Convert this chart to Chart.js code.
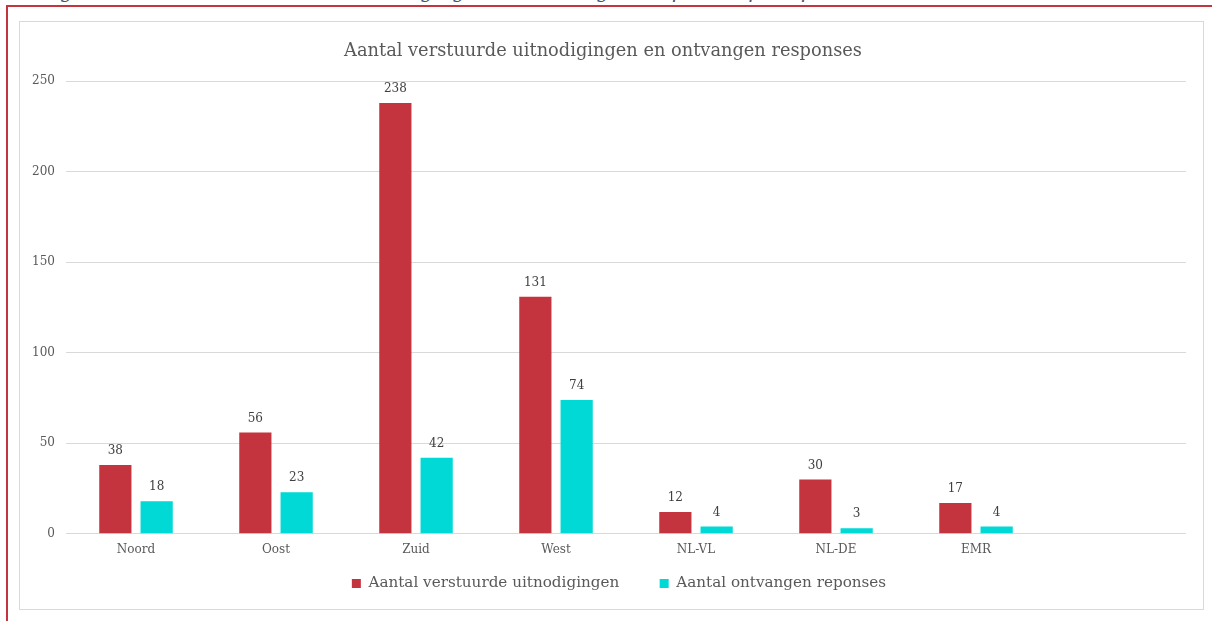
<!DOCTYPE html>
<html>
<head>
    <title>Aantal verstuurde uitnodigingen en ontvangen responses</title>
    <script src="https://cdn.jsdelivr.net/npm/chart.js"></script>
    <style>
        body {margin: 0; background: #fff; width: 1212px; height: 621px; overflow: hidden; position: relative;}
        #caption {position: absolute; left: 40px; top: -21px; font: italic 20px "DejaVu Serif", serif; color: #44546a; white-space: nowrap;}
        #frame {position: absolute; left: 6px; top: 5px; width: 1220px; height: 640px; border-left: 2px solid #c3343f; border-top: 2px solid #c3343f;}
        #chartBox {position: absolute; left: 19px; top: 21px; width: 1183px; height: 587px; border: 1px solid #d9d9d9; background: #fff;}
    </style>
</head>
<body>
    <div id="caption">Figuur 33 - Aantal verstuurde uitnodigingen en ontvangen responses per operatie</div>
    <div id="frame"></div>
    <div id="chartBox">
        <canvas id="myChart"></canvas>
    </div>
    <script>
        var regions = ['Noord', 'Oost', 'Zuid', 'West', 'NL-VL', 'NL-DE', 'EMR', ''];
        var uitnodigingen = [38, 56, 238, 131, 12, 30, 17, null];
        var responses = [18, 23, 42, 74, 4, 3, 4, null];
        var yTicks = [0, 50, 100, 150, 200, 250];

        var serif = '"DejaVu Serif", serif';

        // values above the bars
        var barLabels = {
            id: 'barLabels',
            afterDatasetsDraw: function(chart) {
                var ctx = chart.ctx;
                ctx.save();
                ctx.font = '12px ' + serif;
                ctx.fillStyle = '#404040';
                ctx.textAlign = 'center';
                ctx.textBaseline = 'bottom';
                chart.data.datasets.forEach(function(ds, i) {
                    chart.getDatasetMeta(i).data.forEach(function(bar, j) {
                        if (ds.data[j] == null) return;
                        ctx.fillText(ds.data[j], bar.x, bar.y - 8);
                    });
                });
                ctx.restore();
            }
        };

        // legend sits a bit right of the plot centre in the original
        var legendShift = {
            id: 'legendShift',
            afterLayout: function(chart) {
                chart.legend.left += 16;
                chart.legend.right += 16;
            }
        };

        var ctx = document.getElementById('myChart').getContext('2d');
        new Chart(ctx, {
            type: 'bar',
            data: {
                labels: regions,
                datasets: [
                    {label: 'Aantal verstuurde uitnodigingen', data: uitnodigingen, backgroundColor: '#c3343f'},
                    {label: 'Aantal ontvangen reponses', data: responses, backgroundColor: '#00d9d6'}
                ]
            },
            plugins: [barLabels, legendShift],
            options: {
                responsive: true,
                maintainAspectRatio: false,
                animation: false,
                categoryPercentage: 0.59,
                barPercentage: 0.78,
                layout: {padding: {left: 0, right: 17, top: 0, bottom: 8}},
                plugins: {
                    tooltip: {enabled: false},
                    title: {
                        display: true,
                        text: 'Aantal verstuurde uitnodigingen en ontvangen responses',
                        color: '#595959',
                        font: {family: serif, size: 17.8, weight: 'normal'},
                        padding: {top: 19, bottom: 19}
                    },
                    legend: {
                        position: 'bottom',
                        labels: {
                            color: '#595959',
                            font: {family: serif, size: 15.2},
                            usePointStyle: true,
                            pointStyle: 'rect',
                            boxWidth: 9,
                            boxHeight: 9,
                            padding: 10,
                            // wider gap between the two items
                            generateLabels: function(chart) {
                                var items = Chart.defaults.plugins.legend.labels.generateLabels(chart);
                                items[0].text += '\u2003\u2003';
                                return items;
                            }
                        }
                    }
                },
                scales: {
                    y: {
                        min: 0,
                        max: 250,
                        afterBuildTicks: function(scale) {
                            scale.ticks = yTicks.map(function(v) { return {value: v}; });
                        },
                        afterFit: function(scale) { scale.width = 46; },
                        border: {display: false},
                        grid: {color: '#d9d9d9', drawTicks: false},
                        ticks: {color: '#595959', font: {family: serif, size: 12}, padding: 11}
                    },
                    x: {
                        afterFit: function(scale) { scale.height = 32; },
                        border: {display: false},
                        grid: {display: false, drawTicks: false},
                        ticks: {color: '#595959', font: {family: serif, size: 12}, padding: 9}
                    }
                }
            }
        });
    </script>
</body>
</html>
